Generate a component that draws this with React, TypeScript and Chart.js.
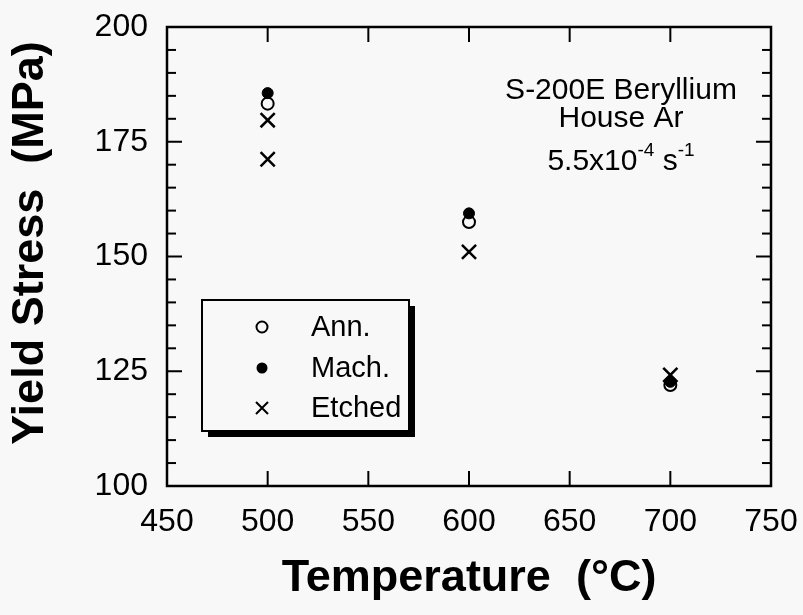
import React, { useEffect, useRef } from "react";
import { Chart, registerables } from "chart.js";

Chart.register(...registerables);

const FONT = "'Liberation Sans', Arial, Helvetica, sans-serif";
const BG = "#f8f8f8";

// ---- data ----
const annTemps = [500, 600, 700];
const annStress = [183.3, 157.5, 122.0];
const machTemps = [500, 600, 700];
const machStress = [185.6, 159.4, 122.7];
const etchedTemps = [500, 500, 600, 700];
const etchedStress = [179.7, 171.2, 151.0, 124.2];

const seriesLabels = ["Ann.", "Mach.", "Etched"];

const xMin = 450;
const xMax = 750;
const xStep = 50;
const yMin = 100;
const yMax = 200;
const yStep = 25;
const yMinorStep = 5;

const xTitle = "Temperature  (°C)";
const yTitle = "Yield Stress  (MPa)";

const noteLines = ["S-200E Beryllium", "House Ar"];
const rateBase = "5.5x10";
const rateExp = "-4";
const rateUnit = " s";
const rateUnitExp = "-1";

const bgPlugin = {
  id: "bg",
  beforeDraw(chart: any) {
    const { ctx, width, height } = chart;
    ctx.save();
    ctx.fillStyle = BG;
    ctx.fillRect(0, 0, width, height);
    ctx.restore();
  },
};

const framePlugin = {
  id: "frame",
  afterDatasetsDraw(chart: any) {
    const { ctx, chartArea: a, scales } = chart;
    const x = scales.x;
    const y = scales.y;
    ctx.save();
    ctx.strokeStyle = "#000";
    ctx.lineWidth = 2;
    const line = (x1: number, y1: number, x2: number, y2: number) => {
      ctx.beginPath();
      ctx.moveTo(x1, y1);
      ctx.lineTo(x2, y2);
      ctx.stroke();
    };
    for (let v = yMin; v <= yMax; v += yMinorStep) {
      const py = y.getPixelForValue(v);
      const len = (v - yMin) % yStep === 0 ? 15 : 9;
      line(a.left, py, a.left + len, py);
      line(a.right, py, a.right - len, py);
    }
    for (let v = xMin; v <= xMax; v += xStep) {
      const px = x.getPixelForValue(v);
      line(px, a.bottom, px, a.bottom - 15);
      line(px, a.top, px, a.top + 15);
    }
    ctx.lineWidth = 2.5;
    ctx.strokeRect(a.left, a.top, a.right - a.left, a.bottom - a.top);
    ctx.restore();
  },
};

const yTitlePlugin = {
  id: "yTitle",
  afterDraw(chart: any) {
    const { ctx } = chart;
    ctx.save();
    ctx.translate(31, 243);
    ctx.rotate(-Math.PI / 2);
    ctx.fillStyle = "#000";
    ctx.font = `bold 45px ${FONT}`;
    ctx.textAlign = "center";
    ctx.textBaseline = "middle";
    ctx.fillText(yTitle, 0, 0);
    ctx.restore();
  },
};

const notePlugin = {
  id: "note",
  afterDraw(chart: any) {
    const { ctx } = chart;
    const cx = 621;
    ctx.save();
    ctx.fillStyle = "#000";
    ctx.textBaseline = "alphabetic";
    ctx.textAlign = "center";
    ctx.font = `30px ${FONT}`;
    ctx.fillText(noteLines[0], cx, 99);
    ctx.fillText(noteLines[1], cx, 127);
    const big = `30px ${FONT}`;
    const small = `19px ${FONT}`;
    ctx.textAlign = "left";
    ctx.font = big;
    const w1 = ctx.measureText(rateBase).width;
    const w3 = ctx.measureText(rateUnit).width;
    ctx.font = small;
    const w2 = ctx.measureText(rateExp).width;
    const w4 = ctx.measureText(rateUnitExp).width;
    const total = w1 + w2 + w3 + w4;
    let px = cx - total / 2;
    const base = 170;
    ctx.font = big;
    ctx.fillText(rateBase, px, base);
    px += w1;
    ctx.font = small;
    ctx.fillText(rateExp, px, base - 14);
    px += w2;
    ctx.font = big;
    ctx.fillText(rateUnit, px, base);
    px += w3;
    ctx.font = small;
    ctx.fillText(rateUnitExp, px, base - 14);
    ctx.restore();
  },
};

const legendPlugin = {
  id: "boxLegend",
  afterDraw(chart: any) {
    const { ctx } = chart;
    const bx = 202;
    const by = 300;
    const bw = 207;
    const bh = 131;
    const sh = 6;
    ctx.save();
    ctx.fillStyle = "#000";
    ctx.fillRect(bx + sh, by + sh, bw, bh);
    ctx.fillStyle = BG;
    ctx.fillRect(bx, by, bw, bh);
    ctx.strokeStyle = "#000";
    ctx.lineWidth = 2;
    ctx.strokeRect(bx, by, bw, bh);
    const mx = 262;
    const tx = 311;
    const rows = [327, 368, 408];
    ctx.font = `29px ${FONT}`;
    ctx.textBaseline = "middle";
    ctx.textAlign = "left";
    chart.data.datasets.forEach((ds: any, i: number) => {
      const cy = rows[i];
      ctx.lineWidth = 2;
      ctx.strokeStyle = "#000";
      ctx.fillStyle = "#000";
      if (ds.pointStyle === "circle" && ds.pointBackgroundColor === "#000") {
        ctx.beginPath();
        ctx.arc(mx, cy, 5.5, 0, Math.PI * 2);
        ctx.fill();
      } else if (ds.pointStyle === "circle") {
        ctx.beginPath();
        ctx.arc(mx, cy, 5.5, 0, Math.PI * 2);
        ctx.stroke();
      } else {
        const d = 6;
        ctx.beginPath();
        ctx.moveTo(mx - d, cy - d);
        ctx.lineTo(mx + d, cy + d);
        ctx.moveTo(mx + d, cy - d);
        ctx.lineTo(mx - d, cy + d);
        ctx.stroke();
      }
      ctx.fillStyle = "#000";
      ctx.fillText(ds.label, tx, cy + 1);
    });
    ctx.restore();
  },
};

const toPoints = (xs: number[], ys: number[]) => xs.map((v, i) => ({ x: v, y: ys[i] }));

export default function App() {
  const ref = useRef<HTMLCanvasElement | null>(null);
  useEffect(() => {
    if (!ref.current) return;
    const chart = new Chart(ref.current, {
      type: "scatter",
      data: {
        datasets: [
          {
            label: seriesLabels[0],
            data: toPoints(annTemps, annStress),
            pointStyle: "circle",
            pointRadius: 6,
            pointBorderWidth: 2,
            pointBorderColor: "#000",
            pointBackgroundColor: "rgba(0,0,0,0)",
            showLine: false,
            order: 3,
          },
          {
            label: seriesLabels[1],
            data: toPoints(machTemps, machStress),
            pointStyle: "circle",
            pointRadius: 5.5,
            pointBorderWidth: 1,
            pointBorderColor: "#000",
            pointBackgroundColor: "#000",
            showLine: false,
            order: 2,
          },
          {
            label: seriesLabels[2],
            data: toPoints(etchedTemps, etchedStress),
            pointStyle: "crossRot",
            pointRadius: 10,
            pointBorderWidth: 2.5,
            pointBorderColor: "#000",
            pointBackgroundColor: "#000",
            showLine: false,
            order: 1,
          },
        ] as any,
      },
      options: {
        animation: false,
        responsive: false,
        maintainAspectRatio: false,
        layout: { padding: { left: 0, top: 27, right: 32, bottom: 0 } },
        plugins: {
          legend: { display: false },
          tooltip: { enabled: false },
        },
        scales: {
          x: {
            type: "linear",
            min: xMin,
            max: xMax,
            grid: { display: false, drawTicks: false },
            border: { display: false },
            ticks: {
              stepSize: xStep,
              color: "#000",
              padding: 17,
              font: { family: FONT, size: 32 },
            },
            title: {
              display: true,
              text: xTitle,
              color: "#000",
              font: { family: FONT, size: 45, weight: "bold" },
              padding: { top: 0, bottom: 9 },
            },
            afterFit: (s: any) => {
              s.height = 615 - 486;
              s.paddingLeft = 0;
              s.paddingRight = 0;
            },
          },
          y: {
            type: "linear",
            min: yMin,
            max: yMax,
            grid: { display: false, drawTicks: false },
            border: { display: false },
            ticks: {
              stepSize: yStep,
              color: "#000",
              padding: 19,
              font: { family: FONT, size: 32 },
            },
            title: { display: false, text: yTitle },
            afterFit: (s: any) => {
              s.width = 167;
              s.paddingTop = 0;
              s.paddingBottom = 0;
            },
          },
        },
      } as any,
      plugins: [bgPlugin, framePlugin, legendPlugin, notePlugin, yTitlePlugin],
    });
    return () => chart.destroy();
  }, []);
  return (
    <div style={{ position: "absolute", left: 0, top: 0, width: 803, height: 615, background: BG }}>
      <canvas ref={ref} width={803} height={615} style={{ display: "block" }} />
    </div>
  );
}
